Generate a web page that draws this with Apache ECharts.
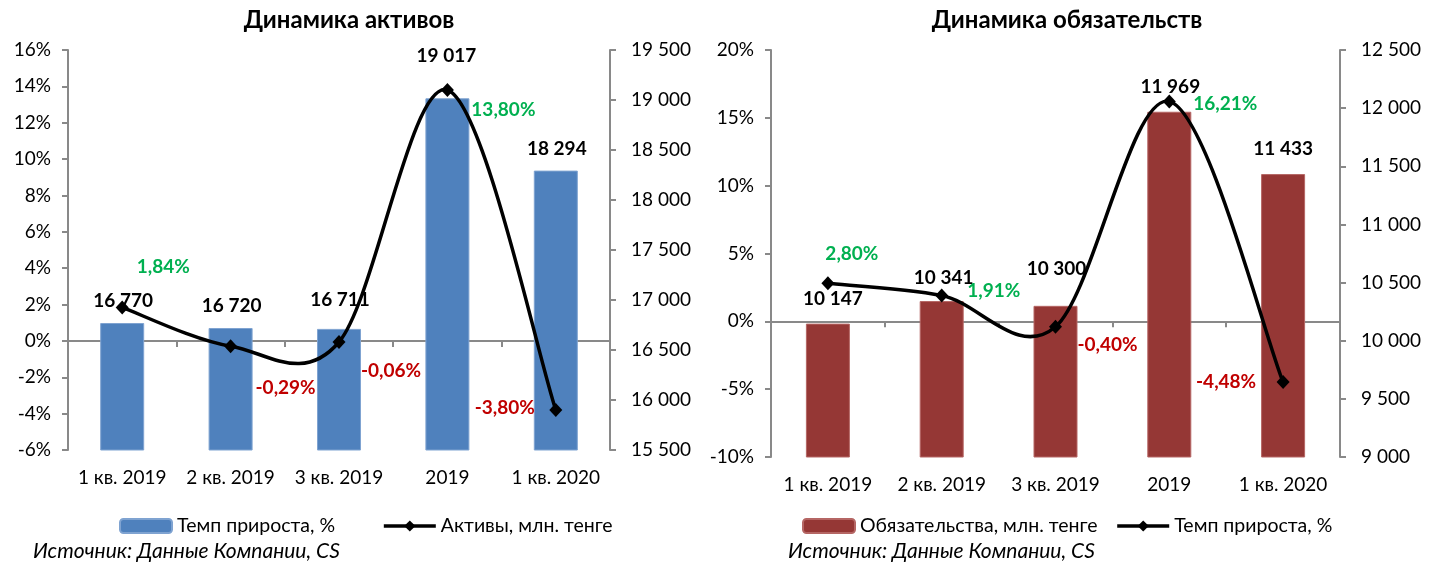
<!DOCTYPE html>
<html>
<head>
<meta charset="utf-8">
<script src="https://cdn.jsdelivr.net/npm/echarts@6/dist/echarts.min.js"></script>
<style>
html,body{margin:0;padding:0;background:#fff;}
#chart{width:1434px;height:566px;}
</style>
</head>
<body>
<div id="chart"></div>
<script>
// ---- data ----
const categories = ['1 кв. 2019', '2 кв. 2019', '3 кв. 2019', '2019', '1 кв. 2020'];
const assetsValues = [16770, 16720, 16711, 19017, 18294];        // млн. тенге (bars, right axis)
const assetsGrowth = [1.84, -0.29, -0.06, 13.80, -3.80];          // % (line, left axis)
const liabilitiesValues = [10147, 10341, 10300, 11969, 11433];   // млн. тенге (bars, right axis)
const liabilitiesGrowth = [2.80, 1.91, -0.40, 16.21, -4.48];      // % (line, left axis)

const titles = ['Динамика активов', 'Динамика обязательств'];
const legendNamesA = ['Темп прироста, %', 'Активы, млн. тенге'];
const legendNamesL = ['Обязательства, млн. тенге', 'Темп прироста, % '];
const sourceText = 'Источник: Данные Компании, CS';

// ---- label placement (offsets in px) ----
const aBarLblDx = [1, 1, 1, -1, 1];
const aBarLblDy = [-23, -23, -30, -43, -22];
const aLineLbl = [[41, -41], [55, 42], [52, 29], [56, 20], [-51, -2]];
const lBarLblDx = [5, 2, 1, 1, 0];
const lBarLblDy = [-25, -24, -37, -25, -26];
const lLineLbl = [[24, -29], [52, -5], [52, 18], [56, 2], [-57, 0]];

const FONT = 'Lato, "Noto Sans", sans-serif';
const FS = 19;
const AXIS_COLOR = '#898989';
const GREEN = '#00B050', RED = '#C00000';
const LINE_W = 3.5;

function fmtThousands(v) { return String(v).replace(/\B(?=(\d{3})+(?!\d))/g, ' '); }
function fmtPct(v) { return v.toFixed(2).replace('.', ',') + '%'; }

const chart = echarts.init(document.getElementById('chart'), null, {renderer: 'canvas'});

const grids = [
  {left: 68, top: 50, width: 542, height: 400},
  {left: 771, top: 50, width: 569, height: 407}
];

function labelXAxis(gi) {
  return {
    type: 'category', gridIndex: gi, data: categories, position: 'bottom',
    axisLine: {show: false, onZero: false}, axisTick: {show: false},
    axisLabel: {color: '#000', fontFamily: FONT, fontSize: FS, margin: 18, interval: 0}
  };
}
function zeroXAxis(gi) {
  return {
    type: 'category', gridIndex: gi, data: categories, position: 'top',
    axisLine: {show: true, onZero: true, lineStyle: {color: AXIS_COLOR, width: 2}},
    axisTick: {show: true, inside: true, length: 6, lineStyle: {color: AXIS_COLOR, width: 2}},
    axisLabel: {show: false}
  };
}
function valAxis(gi, pos, min, max, interval, fmt, margin) {
  return {
    type: 'value', gridIndex: gi, position: pos, min: min, max: max, interval: interval,
    axisLine: {show: true, lineStyle: {color: AXIS_COLOR, width: 2}},
    axisTick: {show: true, length: 6, lineStyle: {color: AXIS_COLOR, width: 2}},
    splitLine: {show: false},
    axisLabel: {color: '#000', fontFamily: FONT, fontSize: FS, margin: margin, formatter: fmt}
  };
}

function barSeries(name, values, xi, yi, color, edge, dxs, dys) {
  return {
    name: name, type: 'bar', xAxisIndex: xi, yAxisIndex: yi, barWidth: 44,
    itemStyle: {color: color, borderColor: edge, borderWidth: 1},
    z: 2,
    data: values.map((v, i) => ({
      value: v,
      label: {show: true, position: 'top', distance: 0, offset: [dxs[i], dys[i] + 10]}
    })),
    label: {
      show: true, color: '#000', fontFamily: FONT, fontSize: FS, fontWeight: 'bold',
      formatter: p => fmtThousands(p.value)
    }
  };
}
// markers + labels (line itself drawn by the curve series below)
function markerSeries(name, values, xi, yi, offs) {
  return {
    name: name, type: 'line', xAxisIndex: xi, yAxisIndex: yi,
    symbol: 'diamond', symbolSize: [13, 14], z: 6,
    lineStyle: {color: '#000', width: LINE_W, opacity: 0},
    itemStyle: {color: '#000'},
    data: values.map((v, i) => ({
      value: v,
      label: {show: true, position: 'inside', offset: offs[i], color: v >= 0 ? GREEN : RED}
    })),
    label: {
      show: true, fontFamily: FONT, fontSize: FS, fontWeight: 'bold',
      formatter: p => fmtPct(p.value)
    }
  };
}
// Excel-style smoothed curve (Catmull-Rom through the data points, positions from the axes)
function curveSeries(id, values, xi, yi) {
  return {
    name: id, type: 'custom', coordinateSystem: 'cartesian2d', xAxisIndex: xi, yAxisIndex: yi,
    silent: true, z: 5, clip: false,
    data: values.map((v, i) => [i, v]),
    renderItem: function (params, api) {
      if (params.dataIndex !== 0) return null;
      const pts = values.map((v, i) => api.coord([i, v]));
      const n = pts.length;
      let d = 'M' + pts[0][0] + ' ' + pts[0][1];
      for (let i = 0; i < n - 1; i++) {
        const p0 = pts[Math.max(i - 1, 0)], p1 = pts[i], p2 = pts[i + 1], p3 = pts[Math.min(i + 2, n - 1)];
        const c1x = p1[0] + (p2[0] - p0[0]) / 6, c1y = p1[1] + (p2[1] - p0[1]) / 6;
        const c2x = p2[0] - (p3[0] - p1[0]) / 6, c2y = p2[1] - (p3[1] - p1[1]) / 6;
        d += ' C' + c1x + ' ' + c1y + ' ' + c2x + ' ' + c2y + ' ' + p2[0] + ' ' + p2[1];
      }
      return {
        type: 'path',
        shape: {pathData: d},
        style: {stroke: '#000', lineWidth: LINE_W, fill: null, lineJoin: 'round'}
      };
    }
  };
}

const legendLine = {color: '#000', width: LINE_W, opacity: 1};
const LFS = 19.5;

const option = {
  animation: false,
  backgroundColor: '#fff',
  title: [
    {text: titles[0], left: 344, top: 3, textAlign: 'center',
     textStyle: {fontFamily: FONT, fontSize: 24, fontWeight: 'bold', color: '#000'}},
    {text: titles[1], left: 1062, top: 3, textAlign: 'center',
     textStyle: {fontFamily: FONT, fontSize: 24, fontWeight: 'bold', color: '#000'}}
  ],
  grid: grids,
  xAxis: [labelXAxis(0), zeroXAxis(0), labelXAxis(1), zeroXAxis(1)],
  yAxis: [
    valAxis(0, 'left', -6, 16, 2, v => v + '%', 17),
    valAxis(0, 'right', 15500, 19500, 500, v => fmtThousands(v), 21),
    valAxis(1, 'left', -10, 20, 5, v => v + '%', 17),
    valAxis(1, 'right', 9000, 12500, 500, v => fmtThousands(v), 21)
  ],
  legend: [
    {data: [legendNamesA[0], {name: legendNamesA[1], lineStyle: legendLine}],
     left: 119, top: 516, padding: 0, itemWidth: 52, itemHeight: 14,
     itemGap: 47, textStyle: {fontFamily: FONT, fontSize: LFS, color: '#000'}},
    {data: [legendNamesL[0], {name: legendNamesL[1], lineStyle: legendLine}],
     left: 802, top: 516, padding: 0, itemWidth: 52, itemHeight: 14,
     itemGap: 18, textStyle: {fontFamily: FONT, fontSize: LFS, color: '#000'}}
  ],
  graphic: [
    {type: 'text', left: 33, top: 541,
     style: {text: sourceText, fontFamily: FONT, fontSize: 21, fontStyle: 'italic', fill: '#000'}},
    {type: 'text', left: 788, top: 541,
     style: {text: sourceText, fontFamily: FONT, fontSize: 21, fontStyle: 'italic', fill: '#000'}}
  ],
  series: [
    barSeries(legendNamesA[0], assetsValues, 0, 1, '#4F81BD', '#7FA3D1', aBarLblDx, aBarLblDy),
    curveSeries('curveA', assetsGrowth, 0, 0),
    markerSeries(legendNamesA[1], assetsGrowth, 0, 0, aLineLbl),
    barSeries(legendNamesL[0], liabilitiesValues, 2, 3, '#953735', '#B56664', lBarLblDx, lBarLblDy),
    curveSeries('curveL', liabilitiesGrowth, 2, 2),
    markerSeries(legendNamesL[1], liabilitiesGrowth, 2, 2, lLineLbl)
  ]
};
chart.setOption(option);
</script>
</body>
</html>
